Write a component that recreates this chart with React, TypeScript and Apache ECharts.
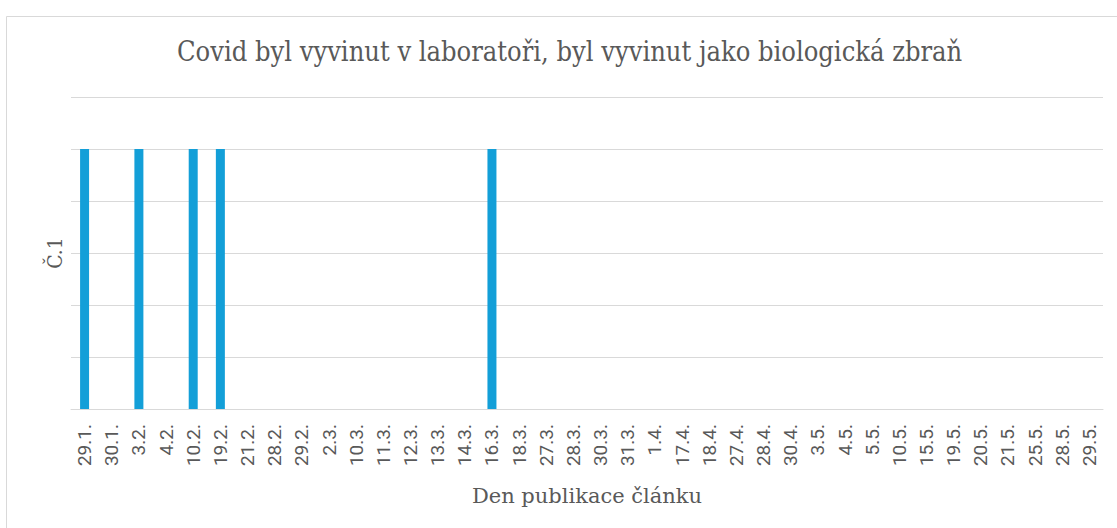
import React, { useEffect, useRef } from "react";
import * as echarts from "echarts";

const title = "Covid byl vyvinut v laboratoři, byl vyvinut jako biologická zbraň";
const xAxisTitle = "Den publikace článku";
const yAxisTitle = "Č.1";
const categories = [
  "29.1.", "30.1.", "3.2.", "4.2.", "10.2.", "19.2.", "21.2.", "28.2.", "29.2.", "2.3.",
  "10.3.", "11.3.", "12.3.", "13.3.", "14.3.", "16.3.", "18.3.", "27.3.", "28.3.", "30.3.",
  "31.3.", "1.4.", "17.4.", "18.4.", "27.4.", "28.4.", "30.4.", "3.5.", "4.5.", "5.5.",
  "10.5.", "15.5.", "19.5.", "20.5.", "21.5.", "25.5.", "28.5.", "29.5.",
];
const values = [
  1, 0, 1, 0, 1, 1, 0, 0, 0, 0,
  0, 0, 0, 0, 0, 1, 0, 0, 0, 0,
  0, 0, 0, 0, 0, 0, 0, 0, 0, 0,
  0, 0, 0, 0, 0, 0, 0, 0,
];

export default function App() {
  const ref = useRef<HTMLDivElement>(null);
  useEffect(() => {
    if (!ref.current) return;
    const chart = echarts.init(ref.current, undefined, { renderer: "svg" });
    chart.setOption({
      animation: false,
      backgroundColor: "#ffffff",
      title: {
        text: title,
        left: 172,
        top: 33,
        textStyle: {
          fontFamily: "DejaVu Serif Condensed",
          fontSize: 27,
          fontWeight: "normal",
          color: "#595959",
        },
      },
      grid: { left: 71, right: 14, top: 97, bottom: 119, containLabel: false },
      xAxis: {
        type: "category",
        data: categories,
        name: xAxisTitle,
        nameLocation: "middle",
        nameGap: 76,
        nameTextStyle: {
          fontFamily: "DejaVu Serif",
          fontSize: 21,
          color: "#595959",
        },
        axisLine: { lineStyle: { color: "#d9d9d9", width: 1 } },
        axisTick: { show: false },
        axisLabel: {
          rotate: 90,
          interval: 0,
          margin: 15,
          fontFamily: "Roboto",
          fontSize: 19,
          color: "#595959",
        },
      },
      yAxis: {
        type: "value",
        min: 0,
        max: 1.2,
        interval: 0.2,
        axisLabel: { show: false },
        axisLine: { show: false },
        axisTick: { show: false },
        splitLine: { lineStyle: { color: "#d9d9d9", width: 1 } },
      },
      series: [
        {
          type: "bar",
          data: values,
          barWidth: 9,
          itemStyle: { color: "#139fd8" },
        },
      ],
      graphic: [
        {
          type: "rect",
          left: 4,
          top: 14,
          shape: { width: 1130, height: 530 },
          style: { fill: "none", stroke: "#d9d9d9", lineWidth: 1 },
          silent: true,
          z: -1,
        },
        {
          type: "text",
          x: 55,
          y: 253,
          rotation: Math.PI / 2,
          style: {
            text: yAxisTitle,
            fontFamily: "DejaVu Serif Condensed",
            fontSize: 21,
            fill: "#595959",
            align: "center",
            verticalAlign: "middle",
          },
        },
      ],
    });
    return () => chart.dispose();
  }, []);
  return (
    <div
      ref={ref}
      style={{ position: "fixed", left: 0, top: 0, width: 1117, height: 528 }}
    />
  );
}
